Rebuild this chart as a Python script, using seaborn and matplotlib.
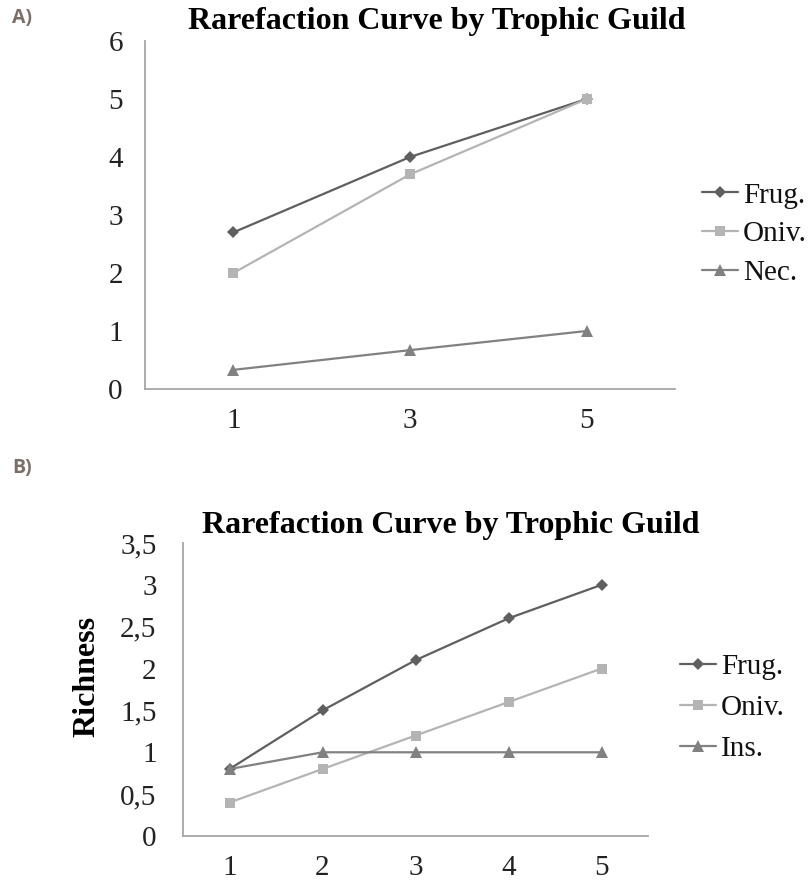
import matplotlib
matplotlib.use("Agg")
import matplotlib.pyplot as plt
import seaborn as sns
import pandas as pd

# ---- data ----
title = "Rarefaction Curve by Trophic Guild"
a_x = ["1", "3", "5"]
a_frug = [2.7, 4.0, 5.0]
a_oniv = [2.0, 3.7, 5.0]
a_nec = [0.33, 0.67, 1.0]
a_yticks = [0, 1, 2, 3, 4, 5, 6]
a_ytick_labels = ["0", "1", "2", "3", "4", "5", "6"]

b_x = ["1", "2", "3", "4", "5"]
b_frug = [0.8, 1.5, 2.1, 2.6, 3.0]
b_oniv = [0.4, 0.8, 1.2, 1.6, 2.0]
b_ins = [0.8, 1.0, 1.0, 1.0, 1.0]
b_yticks = [0, 0.5, 1, 1.5, 2, 2.5, 3, 3.5]
b_ytick_labels = ["0", "0,5", "1", "1,5", "2", "2,5", "3", "3,5"]
b_ylabel = "Richness"

sns.set_theme(style="white")
plt.rcParams['font.family'] = ['Liberation Serif', 'DejaVu Serif']

SERIF = 'Liberation Serif'
C_FRUG = "#5f5f5f"
C_ONIV = "#b4b4b4"
C_THIRD = "#818181"
AXIS_C = "#a6a6a6"
FS = 21

fig = plt.figure(figsize=(8.09, 8.86), dpi=100)
W, H = 809, 886

def fbox(l, t, r, b):
    return [l / W, 1 - b / H, (r - l) / W, (b - t) / H]

axA = fig.add_axes(fbox(145, 41, 675, 389))
axB = fig.add_axes(fbox(183, 543, 648, 836))

def draw(ax, xs, series, ylim, yticks, ylabels, legend_anchor, ypad, lspace):
    for name, vals, color, marker, ms in series:
        df = pd.DataFrame({"x": xs, "y": vals})
        sns.lineplot(data=df, x="x", y="y", ax=ax, color=color, marker=marker,
                     markersize=ms, markeredgewidth=0, linewidth=1.6,
                     label=name, sort=False)
    ax.set_xlim(-0.5, len(xs) - 0.5)
    ax.set_ylim(*ylim)
    ax.set_yticks(yticks)
    ax.set_yticklabels(ylabels)
    ax.set_xlabel("")
    ax.set_ylabel("")
    for s in ["top", "right"]:
        ax.spines[s].set_visible(False)
    for s in ["left", "bottom"]:
        ax.spines[s].set_color(AXIS_C)
        ax.spines[s].set_linewidth(1.3)
    ax.tick_params(axis="both", length=0, labelsize=FS, colors="#222222")
    ax.tick_params(axis="y", pad=ypad)
    ax.tick_params(axis="x", pad=14)
    for lab in ax.get_xticklabels() + ax.get_yticklabels():
        lab.set_family(SERIF)
    leg = ax.legend(loc="center left", bbox_to_anchor=legend_anchor,
                    bbox_transform=fig.transFigure, frameon=False,
                    prop={"family": SERIF, "size": FS},
                    handlelength=1.25, handletextpad=0.15, labelspacing=lspace,
                    borderpad=0, borderaxespad=0)
    for t in leg.get_texts():
        t.set_color("#111111")

draw(axA, a_x,
     [("Frug.", a_frug, C_FRUG, "D", 6.3),
      ("Oniv.", a_oniv, C_ONIV, "s", 7.2),
      ("Nec.", a_nec, C_THIRD, "^", 8)],
     (0, 6), a_yticks, a_ytick_labels, (702 / W, 1 - 234 / H), 16, 0.42)

draw(axB, b_x,
     [("Frug.", b_frug, C_FRUG, "D", 6.3),
      ("Oniv.", b_oniv, C_ONIV, "s", 7.2),
      ("Ins.", b_ins, C_THIRD, "^", 8)],
     (0, 3.5), b_yticks, b_ytick_labels, (680 / W, 1 - 708 / H), 19, 0.5)

fig.text(437 / W, 1 - 21 / H, title, ha="center", va="center",
         family=SERIF, weight="bold", fontsize=23, color="#000000")
fig.text(451 / W, 1 - 526 / H, title, ha="center", va="center",
         family=SERIF, weight="bold", fontsize=23, color="#000000")
fig.text(87 / W, 1 - 676 / H, b_ylabel, ha="center", va="center", rotation=90,
         family=SERIF, weight="bold", fontsize=23, color="#000000")

fig.text(12 / W, 1 - 18 / H, "A)", ha="left", va="center",
         family="Open Sans", weight="bold", fontsize=14, color="#7a6e68")
fig.text(12 / W, 1 - 468 / H, "B)", ha="left", va="center",
         family="Open Sans", weight="bold", fontsize=14, color="#7a6e68")

fig.savefig("out.png", dpi=100, facecolor="white")
